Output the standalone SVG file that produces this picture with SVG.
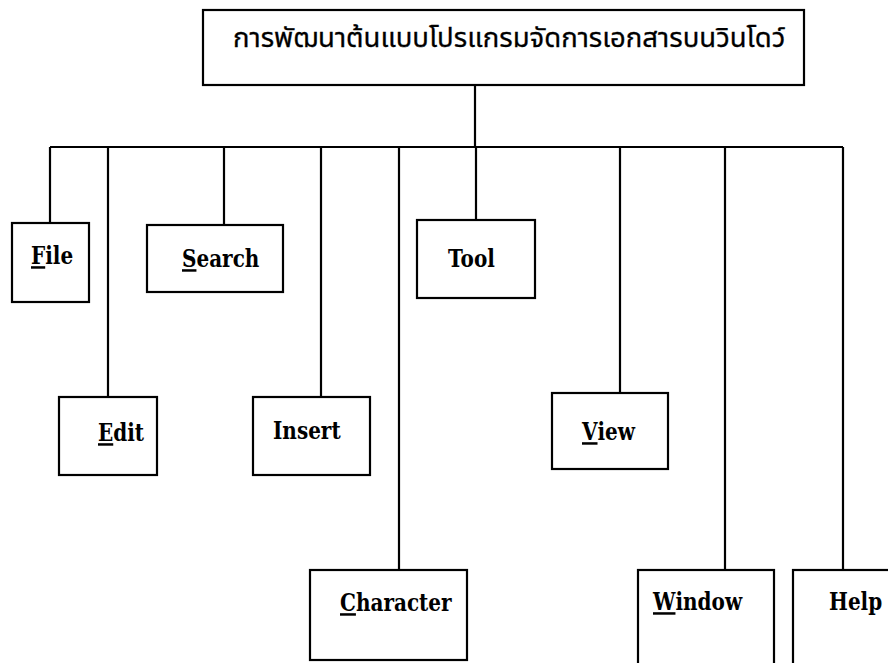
<svg xmlns="http://www.w3.org/2000/svg" width="888" height="663" viewBox="0 0 888 663">
<style>
.box{fill:#fff;stroke:#000;stroke-width:2.2}
.ln{stroke:#000;stroke-width:2.2;fill:none}
.lb{font-family:"DejaVu Serif","Liberation Serif",serif;font-size:20px;font-weight:bold;fill:#000}
.th{font-family:"Noto Sans Thai","Noto Sans Thai UI","Loma","Tlwg Typo","Garuda","Noto Sans",sans-serif;font-size:27.5px;fill:#000;stroke:#000;stroke-width:0.3}
.u{text-decoration:underline}
</style>
<rect width="888" height="663" fill="#fff"/>
<g id="connectors">
<path class="ln" d="M475 85V147M50 147H843M50 147V223M108 147V397M224 147V225M321 147V397M399 147V570M476 147V220M620 147V393M725 147V570M843 147V570"/>
</g>
<g id="root"><rect class="box" x="203" y="10" width="601" height="75"/><text class="th" x="233" y="47">การพัฒนาต้นแบบโปรแกรมจัดการเอกสารบนวินโดว์</text></g>
<g id="file"><rect class="box" x="12" y="223" width="77" height="79"/><text class="lb" transform="translate(31 264) scale(1 1.25)"><tspan class="u">F</tspan>ile</text></g>
<g id="search"><rect class="box" x="147" y="225" width="136" height="67"/><text class="lb" transform="translate(182 267) scale(1 1.25)"><tspan class="u">S</tspan>earch</text></g>
<g id="tool"><rect class="box" x="417" y="220" width="118" height="78"/><text class="lb" transform="translate(448 267) scale(1 1.25)">Tool</text></g>
<g id="edit"><rect class="box" x="59" y="397" width="98" height="78"/><text class="lb" transform="translate(98 441) scale(1 1.25)"><tspan class="u">E</tspan>dit</text></g>
<g id="insert"><rect class="box" x="253" y="397" width="117" height="78"/><text class="lb" transform="translate(273 439) scale(1 1.25)">Insert</text></g>
<g id="view"><rect class="box" x="552" y="393" width="116" height="76"/><text class="lb" transform="translate(582 440) scale(1 1.25)"><tspan class="u">V</tspan>iew</text></g>
<g id="character"><rect class="box" x="310" y="570" width="157" height="90"/><text class="lb" transform="translate(340 611) scale(1 1.25)"><tspan class="u">C</tspan>haracter</text></g>
<g id="window"><rect class="box" x="638" y="570" width="136" height="100"/><text class="lb" transform="translate(653 610) scale(1 1.25)"><tspan class="u">W</tspan>indow</text></g>
<g id="help"><rect class="box" x="793" y="570" width="110" height="100"/><text class="lb" transform="translate(829 610) scale(1 1.25)">Help</text></g>
</svg>
